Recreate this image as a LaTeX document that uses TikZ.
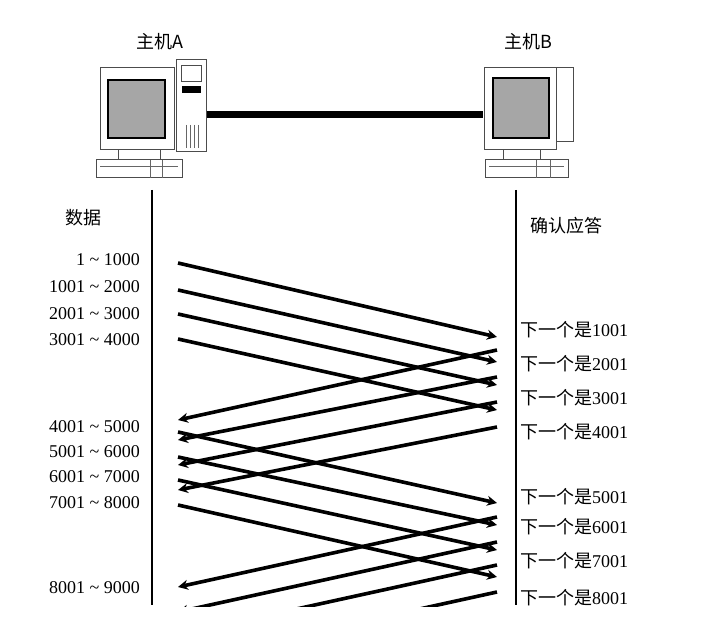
\documentclass[tikz,border=0pt]{standalone}
\usepackage{fontspec}
\setmainfont{Liberation Serif}
\newfontfamily\cjk{Noto Sans CJK SC}
\usetikzlibrary{arrows.meta}
\begin{document}
\begin{tikzpicture}[x=1pt,y=-1pt,
  msg/.style={line width=3.6pt,-{Stealth[length=10pt,width=10pt]}},
  lbl/.style={font=\fontsize{18}{18}\selectfont,inner sep=0pt},
  scr/.style={fill=black!35,draw=black,line width=1.5pt},
  box/.style={fill=white,draw=black!70,line width=1pt}]
\useasboundingbox (0,0) rectangle (707,639);
% computer A
\draw[box] (176,60) rectangle (206,152);
\draw[box] (181,66) rectangle (201,82);
\draw[fill=black] (182,86) rectangle (200,92);
\foreach \xx in {186,190,194,198} \draw[black!60] (\xx,125) -- (\xx,148);
\draw[box] (100,68) rectangle (174,150);
\draw[scr] (108,80) rectangle (165,138);
\draw[box] (118,150) rectangle (160,160);
\draw[box] (96,160) rectangle (182,178);
\draw[black!60] (100,166) -- (178,166) (150,160) -- (150,178) (162,160) -- (162,178);
% computer B
\draw[box] (555,68) rectangle (573,142);
\draw[box] (484,68) rectangle (556,150);
\draw[scr] (493,78) rectangle (549,138);
\draw[box] (503,150) rectangle (540,160);
\draw[box] (485,160) rectangle (568,178);
\draw[black!60] (489,166) -- (564,166) (536,160) -- (536,178) (550,160) -- (550,178);
\node[inner sep=0pt] (cA) at (206,115) {};
\node[inner sep=0pt] (cB) at (484,115) {};
\draw[line width=7pt] (cA) -- (cB);
\node[lbl] (hA) at (160,42) {\cjk 主机A};
\node[lbl] (hB) at (528,42) {\cjk 主机B};
% timelines
\coordinate (ta) at (152,190); \coordinate (tb) at (152,605);
\coordinate (ua) at (516,190); \coordinate (ub) at (516,605);
\draw[line width=2pt] (ta) -- (tb);
\draw[line width=2pt] (ua) -- (ub);
\node[lbl] (dat) at (83,218) {\cjk 数据};
\node[lbl] (ack) at (566,226) {\cjk 确认应答};
% left labels
\foreach \t/\yy [count=\i] in {1 \textasciitilde{} 1000/260, 1001 \textasciitilde{} 2000/287, 2001 \textasciitilde{} 3000/314, 3001 \textasciitilde{} 4000/340, 4001 \textasciitilde{} 5000/427, 5001 \textasciitilde{} 6000/452, 6001 \textasciitilde{} 7000/477, 7001 \textasciitilde{} 8000/503, 8001 \textasciitilde{} 9000/588}
  \node[lbl,anchor=east] (L\i) at (140,\yy) {\t};
\foreach \t/\yy [count=\i] in {1001/330,2001/364,3001/398,4001/432,5001/497,6001/527,7001/561,8001/598}
  \node[lbl,anchor=west] (R\i) at (520,\yy) {{\cjk 下一个是}\t};
% arrows
\begin{scope}
\clip (153,190) rectangle (515,606);
\foreach \s/\e [count=\i] in {263/337,290/362,314/385,339/410,432/503,457/525,480/550,505/577}{
  \coordinate (ds\i) at (178,\s); \coordinate (de\i) at (497,\e);
  \draw[msg] (ds\i) -- (de\i);}
\foreach \s/\e [count=\i] in {350/420,377/440,402/465,427/490,517/587,542/612,565/635,592/662}{
  \coordinate (as\i) at (497,\s); \coordinate (ae\i) at (178,\e);
  \draw[msg] (as\i) -- (ae\i);}
\end{scope}
\end{tikzpicture}
\end{document}
